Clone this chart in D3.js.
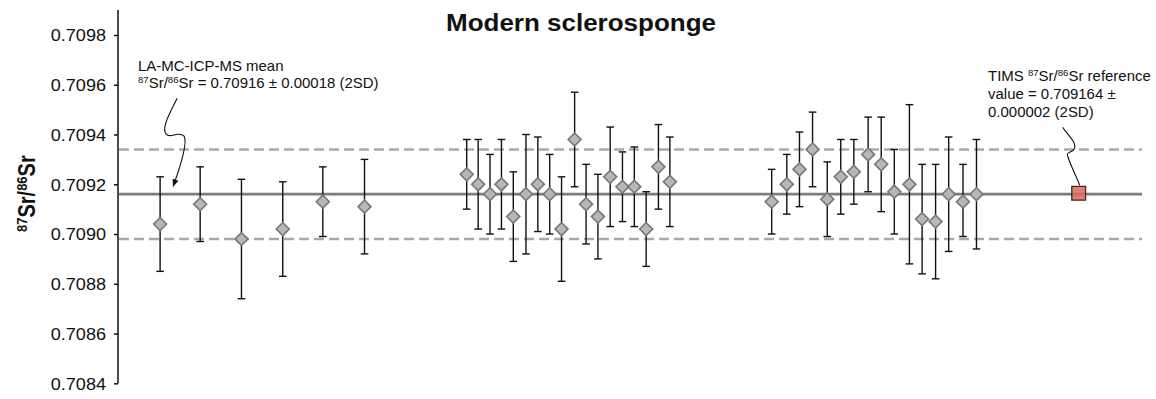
<!DOCTYPE html>
<html>
<head>
<meta charset="utf-8">
<script src="https://cdn.jsdelivr.net/npm/d3@7"></script>
<style>
  body { margin: 0; background: #fff; }
  svg { display: block; }
  text { font-family: "Liberation Sans", Arial, Helvetica, sans-serif; fill: #111; }
</style>
</head>
<body>
<svg id="chart" width="1156" height="399"></svg>
<script>
// Position of each spot along the transect (arbitrary units)
const samplePos = [
  1.03, 2.01, 3.02, 4.03, 5.01, 6.03,
  8.53, 8.81, 9.10, 9.38, 9.67, 9.98, 10.27, 10.56, 10.85, 11.17, 11.45, 11.74, 12.04, 12.34, 12.63, 12.92, 13.22, 13.50,
  15.99, 16.36, 16.67, 16.99, 17.35, 17.68, 18.00, 18.35, 18.67, 18.99, 19.36, 19.67, 20.00, 20.32, 20.67, 21.00
];
// 87Sr/86Sr of each spot
const srRatio = [
  0.70904, 0.70912, 0.70898, 0.70902, 0.70913, 0.70911,
  0.70924, 0.70920, 0.70916, 0.70920, 0.70907, 0.70916, 0.70920, 0.70916, 0.70902, 0.70938, 0.70912, 0.70907, 0.70923, 0.70919, 0.70919, 0.70902, 0.70927, 0.70921,
  0.70913, 0.70920, 0.70926, 0.70934, 0.70914, 0.70923, 0.70925, 0.70932, 0.70928, 0.70917, 0.70920, 0.70906, 0.70905, 0.70916, 0.70913, 0.70916
];
// lower and upper ends of the error bars
const errLow = [
  0.70885, 0.70897, 0.70874, 0.70883, 0.70899, 0.70892,
  0.70910, 0.70902, 0.70900, 0.70902, 0.70889, 0.70892, 0.70901, 0.70900, 0.70881, 0.70919, 0.70896, 0.70890, 0.70903, 0.70905, 0.70903, 0.70887, 0.70910, 0.70903,
  0.70900, 0.70908, 0.70911, 0.70919, 0.70899, 0.70908, 0.70912, 0.70917, 0.70909, 0.70900, 0.70888, 0.70884, 0.70882, 0.70893, 0.70899, 0.70894
];
const errHigh = [
  0.70923, 0.70927, 0.70922, 0.70921, 0.70927, 0.70930,
  0.70938, 0.70938, 0.70932, 0.70938, 0.70925, 0.70940, 0.70939, 0.70932, 0.70923, 0.70957, 0.70928, 0.70924, 0.70943, 0.70933, 0.70935, 0.70917, 0.70944, 0.70939,
  0.70926, 0.70932, 0.70941, 0.70949, 0.70929, 0.70938, 0.70938, 0.70947, 0.70947, 0.70934, 0.70952, 0.70928, 0.70928, 0.70939, 0.70928, 0.70938
];
// LA-MC-ICP-MS mean and 2SD, TIMS reference value
const laMean = 0.70916;
const la2SD = 0.00018;
const timsPos = 23.5;
const timsValue = 0.709164;
// y axis ticks
const yTicks = [0.7084, 0.7086, 0.7088, 0.7090, 0.7092, 0.7094, 0.7096, 0.7098];
const yTickLabels = ["0.7084", "0.7086", "0.7088", "0.7090", "0.7092", "0.7094", "0.7096", "0.7098"];

const svg = d3.select("#chart");
const W = 1156, H = 399;
svg.append("rect").attr("width", W).attr("height", H).attr("fill", "#fff");

const axisX = 118;
const x = d3.scaleLinear().domain([0, 25]).range([axisX, axisX + 1022]);
const y = d3.scaleLinear().domain([0.7084, 0.7098]).range([383.3, 35]);
const yTop = 0.70990;
const lineEndX = x(25.05);

// horizontal text stretch used throughout the figure
const SX = 1.13;

// y axis
const axisG = svg.append("g").attr("transform", `translate(${axisX},0)`);
axisG.append("line")
  .attr("x1", 0).attr("x2", 0)
  .attr("y1", y(yTop)).attr("y2", y(0.7084))
  .attr("stroke", "#111").attr("stroke-width", 1.5);
const yAxis = d3.axisLeft(y)
  .tickValues(yTicks)
  .tickFormat((d, i) => yTickLabels[i])
  .tickSize(4)
  .tickPadding(8);
axisG.append("g").call(yAxis).call(g => {
  g.select(".domain").remove();
  g.selectAll(".tick line").attr("stroke", "#111").attr("stroke-width", 1.5);
  g.selectAll(".tick text")
    .attr("font-size", 16)
    .attr("fill", "#222")
    .attr("x", null)
    .attr("dy", null)
    .attr("dominant-baseline", null)
    .attr("transform", `translate(-12,5.8) scale(${SX},1)`)
    .attr("text-anchor", "end");
});

// y axis title
const yLab = svg.append("text")
  .attr("transform", `translate(35,232) rotate(-90) scale(1,1.15)`)
  .attr("font-size", 20)
  .attr("font-weight", "bold")
  .attr("text-anchor", "start");
yLab.append("tspan").attr("font-size", 13).attr("dy", -7).text("87");
yLab.append("tspan").attr("dy", 7).text("Sr/");
yLab.append("tspan").attr("font-size", 13).attr("dy", -7).text("86");
yLab.append("tspan").attr("dy", 7).text("Sr");

// title
svg.append("text")
  .attr("transform", `translate(581,31) scale(${SX},1)`)
  .attr("text-anchor", "middle")
  .attr("font-size", 23)
  .attr("font-weight", "bold")
  .text("Modern sclerosponge");

// 2SD envelope (dashed) and mean (solid)
[laMean + la2SD, laMean - la2SD].forEach(v => {
  svg.append("line")
    .attr("x1", axisX + 1).attr("x2", lineEndX)
    .attr("y1", y(v)).attr("y2", y(v))
    .attr("stroke", "#a9a9a9").attr("stroke-width", 2.6)
    .attr("stroke-dasharray", "10,5");
});
svg.append("line")
  .attr("x1", axisX + 1).attr("x2", lineEndX)
  .attr("y1", y(laMean)).attr("y2", y(laMean))
  .attr("stroke", "#7d7d7d").attr("stroke-width", 2.8);

// samples
const samples = samplePos.map((p, i) => ({ p, v: srRatio[i], lo: errLow[i], hi: errHigh[i] }));
const eb = svg.append("g").attr("stroke", "#111").attr("stroke-width", 1.4).attr("fill", "none");
const cap = 3.8;
samples.forEach(d => {
  const cx = x(d.p);
  eb.append("line").attr("x1", cx).attr("x2", cx).attr("y1", y(d.hi)).attr("y2", y(d.lo));
  eb.append("line").attr("x1", cx - cap).attr("x2", cx + cap).attr("y1", y(d.hi)).attr("y2", y(d.hi));
  eb.append("line").attr("x1", cx - cap).attr("x2", cx + cap).attr("y1", y(d.lo)).attr("y2", y(d.lo));
});
const diamond = d3.symbol().type(d3.symbolSquare).size(84);
svg.append("g").selectAll("path").data(samples).join("path")
  .attr("d", diamond)
  .attr("transform", d => `translate(${x(d.p)},${y(d.v)}) rotate(45)`)
  .attr("fill", "#b7b7b7")
  .attr("stroke", "#777")
  .attr("stroke-width", 1.6);

// TIMS reference value
svg.append("path")
  .attr("d", d3.symbol().type(d3.symbolSquare).size(190)())
  .attr("transform", `translate(${x(timsPos)},${y(timsValue)})`)
  .attr("fill", "#d9675e")
  .attr("fill-opacity", 0.85)
  .attr("stroke", "#4a2420")
  .attr("stroke-width", 1.3);

// annotation: LA-MC-ICP-MS mean
const annoFont = 14;
const laText = svg.append("text")
  .attr("transform", `translate(138,71) scale(1.07,1)`)
  .attr("font-size", annoFont);
laText.append("tspan").attr("x", 0).attr("y", 0).text("LA-MC-ICP-MS mean");
const laLine2 = laText.append("tspan").attr("x", 0).attr("y", 17.5);
laLine2.append("tspan").attr("font-size", 9).attr("dy", -5).text("87");
laLine2.append("tspan").attr("dy", 5).text("Sr/");
laLine2.append("tspan").attr("font-size", 9).attr("dy", -5).text("86");
laLine2.append("tspan").attr("dy", 5).text("Sr = 0.70916 \u00b1 0.00018 (2SD)");

// leader with arrow to the mean line
svg.append("defs").append("marker")
  .attr("id", "arrow")
  .attr("viewBox", "0 0 10 10")
  .attr("refX", 9).attr("refY", 5)
  .attr("markerWidth", 7).attr("markerHeight", 7)
  .attr("orient", "auto")
  .append("path").attr("d", "M0,1 L10,5 L0,9 Z").attr("fill", "#111");
const tipX = x(1.35), tipY = y(laMean) - 8;
svg.append("path")
  .attr("d", `M${tipX + 4},${tipY - 88} C${tipX - 4},${tipY - 72} ${tipX - 12},${tipY - 58} ${tipX - 7},${tipY - 52}
              C${tipX - 3},${tipY - 47} ${tipX + 5},${tipY - 56} ${tipX + 11},${tipY - 50}
              C${tipX + 14},${tipY - 44} ${tipX + 8},${tipY - 22} ${tipX},${tipY}`)
  .attr("fill", "none").attr("stroke", "#111").attr("stroke-width", 1.1)
  .attr("marker-end", "url(#arrow)");

// annotation: TIMS reference
const tText = svg.append("text")
  .attr("transform", `translate(988,80.5) scale(1.07,1)`)
  .attr("font-size", annoFont);
const t1 = tText.append("tspan").attr("x", 0).attr("y", 0);
t1.append("tspan").text("TIMS ");
t1.append("tspan").attr("font-size", 9).attr("dy", -5).text("87");
t1.append("tspan").attr("dy", 5).text("Sr/");
t1.append("tspan").attr("font-size", 9).attr("dy", -5).text("86");
t1.append("tspan").attr("dy", 5).text("Sr reference");
tText.append("tspan").attr("x", 0).attr("y", 18.5).text("value = 0.709164 \u00b1");
tText.append("tspan").attr("x", 0).attr("y", 37).text("0.000002 (2SD)");

const sqTopX = x(timsPos) + 1, sqTopY = y(timsValue) - 8;
svg.append("path")
  .attr("d", `M${sqTopX - 17},${sqTopY - 58} C${sqTopX - 12},${sqTopY - 50} ${sqTopX - 3},${sqTopY - 43} ${sqTopX - 5},${sqTopY - 37}
              C${sqTopX - 7},${sqTopY - 32} ${sqTopX - 14},${sqTopY - 34} ${sqTopX - 12},${sqTopY - 29}
              C${sqTopX - 9},${sqTopY - 20} ${sqTopX - 4},${sqTopY - 10} ${sqTopX},${sqTopY}`)
  .attr("fill", "none").attr("stroke", "#111").attr("stroke-width", 1.1);
</script>
</body>
</html>
